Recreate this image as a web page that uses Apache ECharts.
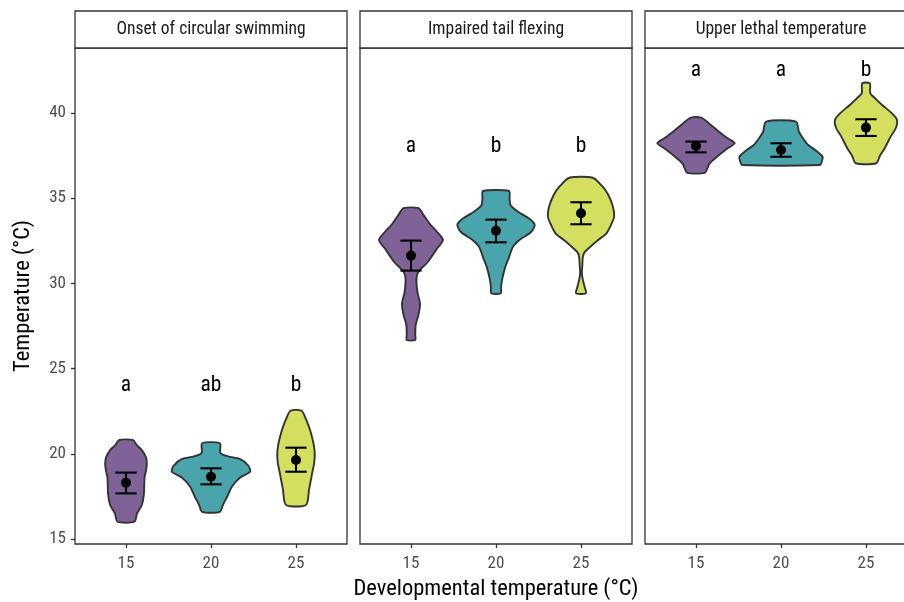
<!DOCTYPE html>
<html><head><meta charset="utf-8">
<script src="https://cdn.jsdelivr.net/npm/echarts@6/dist/echarts.min.js"></script>
<style>html,body{margin:0;padding:0;background:#fff}#c{width:904px;height:602px}</style>
</head><body><div id="c"></div>
<script>
// ---------- data ----------
const categories = ['15', '20', '25'];
const panelTitles = ['Onset of circular swimming', 'Impaired tail flexing', 'Upper lethal temperature'];
const yTicks = [15, 20, 25, 30, 35, 40];

// group letters and their heights
const lettersOnset = ['a', 'ab', 'b'];
const lettersTail = ['a', 'b', 'b'];
const lettersUlt = ['a', 'a', 'b'];
const letterHeights = [24, 38, 42.5];

// means and error bar limits
const meanOnset = [18.31, 18.66, 19.64];
const lowOnset = [17.68, 18.21, 18.95];
const highOnset = [18.90, 19.15, 20.36];
const meanTail = [31.63, 33.09, 34.11];
const lowTail = [30.75, 32.41, 33.47];
const highTail = [32.51, 33.74, 34.76];
const meanUlt = [38.06, 37.83, 39.14];
const lowUlt = [37.69, 37.43, 38.65];
const highUlt = [38.32, 38.22, 39.63];

// violin profiles: [temperature, density half-width (category units)]
const onset15 = [[20.81, 0.08], [20.5, 0.13], [20.22, 0.186], [19.8, 0.235], [19.4, 0.245], [19.0, 0.235], [18.6, 0.218], [17.6, 0.21], [17.0, 0.186], [16.5, 0.13], [16.02, 0.1]];
const onset20 = [[20.62, 0.105], [20.05, 0.11], [19.85, 0.2], [19.7, 0.34], [19.3, 0.44], [18.95, 0.46], [18.6, 0.34], [18.07, 0.245], [17.48, 0.19], [17.0, 0.14], [16.6, 0.105]];
const onset25 = [[22.53, 0.065], [22.0, 0.12], [21.22, 0.176], [20.22, 0.218], [19.5, 0.215], [18.87, 0.19], [17.88, 0.153], [17.0, 0.118]];
const tail15 = [[34.41, 0.088], [34.0, 0.15], [33.5, 0.22], [33.0, 0.31], [32.55, 0.376], [32.0, 0.30], [31.27, 0.2], [30.7, 0.09], [30.32, 0.065], [29.5, 0.075], [28.8, 0.106], [28.2, 0.09], [27.56, 0.055], [27.0, 0.05], [26.68, 0.05]];
const tail20 = [[35.42, 0.153], [35.0, 0.16], [34.6, 0.17], [34.2, 0.26], [33.8, 0.39], [33.43, 0.455], [33.0, 0.41], [32.6, 0.29], [32.15, 0.2], [31.5, 0.15], [30.98, 0.11], [30.3, 0.075], [29.8, 0.06], [29.42, 0.055]];
const tail25 = [[36.2, 0.137], [35.7, 0.25], [35.2, 0.32], [34.5, 0.376], [33.91, 0.39], [33.4, 0.35], [32.94, 0.3], [32.5, 0.19], [32.15, 0.11], [31.85, 0.045], [31.57, 0.022], [31.0, 0.015], [30.6, 0.01], [30.2, 0.022], [29.8, 0.042], [29.42, 0.058]];
const ult15 = [[39.72, 0.06], [39.4, 0.15], [38.9, 0.27], [38.5, 0.376], [38.22, 0.455], [37.9, 0.365], [37.43, 0.247], [37.0, 0.153], [36.5, 0.106]];
const ult20 = [[39.49, 0.176], [38.9, 0.21], [38.5, 0.26], [38.12, 0.32], [37.8, 0.41], [37.43, 0.49], [37.15, 0.48], [36.95, 0.46]];
const ult25 = [[41.74, 0.045], [41.16, 0.05], [40.8, 0.12], [40.47, 0.19], [40.0, 0.3], [39.59, 0.365], [39.1, 0.35], [38.61, 0.29], [37.93, 0.22], [37.5, 0.165], [37.05, 0.12]];

// ---------- assembly ----------
const panels = [
  { violins: [onset15, onset20, onset25], mean: meanOnset, low: lowOnset, high: highOnset, letters: lettersOnset },
  { violins: [tail15, tail20, tail25], mean: meanTail, low: lowTail, high: highTail, letters: lettersTail },
  { violins: [ult15, ult20, ult25], mean: meanUlt, low: lowUlt, high: highUlt, letters: lettersUlt }
];
const fills = ['#7f6298', '#49a5ab', '#d4df5f'];
const FONT = '"Roboto Condensed", "Liberation Sans Narrow", "DejaVu Sans Condensed", Roboto, sans-serif';
const gridLefts = [75, 360, 645];
const GRID_TOP = 48, GRID_H = 496, GRID_W = 272;
const CAP = 0.125;

const grids = [], xAxes = [], yAxes = [], series = [], graphics = [];
panels.forEach((p, k) => {
  grids.push({ left: gridLefts[k], top: GRID_TOP, width: GRID_W, height: GRID_H, show: true, borderColor: '#333', borderWidth: 1.3, backgroundColor: '#fff', outerBoundsMode: 'none', containLabel: false });
  xAxes.push({
    gridIndex: k, type: 'value', min: -0.6, max: 2.6, position: 'bottom',
    splitLine: { show: false }, axisLine: { show: false, onZero: false },
    axisTick: { show: true, customValues: [0, 1, 2], length: 4, lineStyle: { color: '#333', width: 1.3 } },
    axisLabel: { show: true, customValues: [0, 1, 2], formatter: v => categories[Math.round(v)], color: '#4d4d4d', fontSize: 17, fontFamily: FONT, margin: 11 },
    name: k === 1 ? 'Developmental temperature (°C)' : '', nameLocation: 'middle', nameGap: 34,
    nameTextStyle: { fontSize: 22.5, color: '#000', fontFamily: FONT }
  });
  yAxes.push({
    gridIndex: k, type: 'value', min: 14.71, max: 43.81, position: 'left',
    splitLine: { show: false }, axisLine: { show: false, onZero: false },
    axisTick: { show: k === 0, customValues: yTicks, length: 4, lineStyle: { color: '#333', width: 1.3 } },
    axisLabel: { show: k === 0, customValues: yTicks, color: '#4d4d4d', fontSize: 17, fontFamily: FONT, margin: 9 },
    name: k === 0 ? 'Temperature (°C)' : '', nameLocation: 'middle', nameGap: 40, nameRotate: 90,
    nameTextStyle: { fontSize: 22.5, color: '#000', fontFamily: FONT }
  });
  // violins
  series.push({
    type: 'custom', xAxisIndex: k, yAxisIndex: k, z: 2,
    data: categories.map((c, i) => [i, p.mean[i]]),
    renderItem: (params, api) => {
      const i = params.dataIndex;
      const prof = p.violins[i];
      const right = prof.map(d => api.coord([i + d[1], d[0]]));
      const left = prof.slice().reverse().map(d => api.coord([i - d[1], d[0]]));
      return { type: 'polygon', shape: { points: right.concat(left), smooth: 0.25 },
        style: { fill: fills[i], stroke: '#333', lineWidth: 1.9, lineJoin: 'round' } };
    }
  });
  // error bars
  series.push({
    type: 'custom', xAxisIndex: k, yAxisIndex: k, z: 3,
    data: categories.map((c, i) => [i, p.mean[i]]),
    renderItem: (params, api) => {
      const i = params.dataIndex;
      const lo = api.coord([i, p.low[i]]), hi = api.coord([i, p.high[i]]);
      const loL = api.coord([i - CAP, p.low[i]]), loR = api.coord([i + CAP, p.low[i]]);
      const hiL = api.coord([i - CAP, p.high[i]]), hiR = api.coord([i + CAP, p.high[i]]);
      const st = { stroke: '#000', lineWidth: 2.1 };
      return { type: 'group', children: [
        { type: 'line', shape: { x1: lo[0], y1: lo[1], x2: hi[0], y2: hi[1] }, style: st },
        { type: 'line', shape: { x1: loL[0], y1: loL[1], x2: loR[0], y2: loR[1] }, style: st },
        { type: 'line', shape: { x1: hiL[0], y1: hiL[1], x2: hiR[0], y2: hiR[1] }, style: st }
      ] };
    }
  });
  // means
  series.push({
    type: 'scatter', xAxisIndex: k, yAxisIndex: k, z: 4, symbolSize: 10,
    itemStyle: { color: '#000', opacity: 1 },
    data: categories.map((c, i) => [i, p.mean[i]])
  });
  // letters
  series.push({
    type: 'custom', xAxisIndex: k, yAxisIndex: k, z: 5,
    data: categories.map((c, i) => [i, letterHeights[k]]),
    renderItem: (params, api) => {
      const i = params.dataIndex;
      const pt = api.coord([i, letterHeights[k]]);
      return { type: 'text', x: pt[0], y: pt[1], style: { text: p.letters[i], fontSize: 21.5, fontFamily: FONT, fill: '#000', align: 'center', verticalAlign: 'middle' } };
    }
  });
  // strip
  graphics.push({ type: 'rect', shape: { x: gridLefts[k], y: 11, width: GRID_W, height: 37 }, style: { fill: '#fff', stroke: '#333', lineWidth: 1.3 }, z: 10 });
  graphics.push({ type: 'text', x: gridLefts[k] + GRID_W / 2, y: 30, style: { text: panelTitles[k], fontSize: 17.5, fontFamily: FONT, fill: '#1a1a1a', align: 'center', verticalAlign: 'middle' }, z: 11 });
});

const chart = echarts.init(document.getElementById('c'), null, { renderer: 'canvas' });
chart.setOption({
  animation: false,
  backgroundColor: '#fff',
  grid: grids, xAxis: xAxes, yAxis: yAxes, series: series,
  graphic: { elements: graphics }
});
</script>
</body></html>
